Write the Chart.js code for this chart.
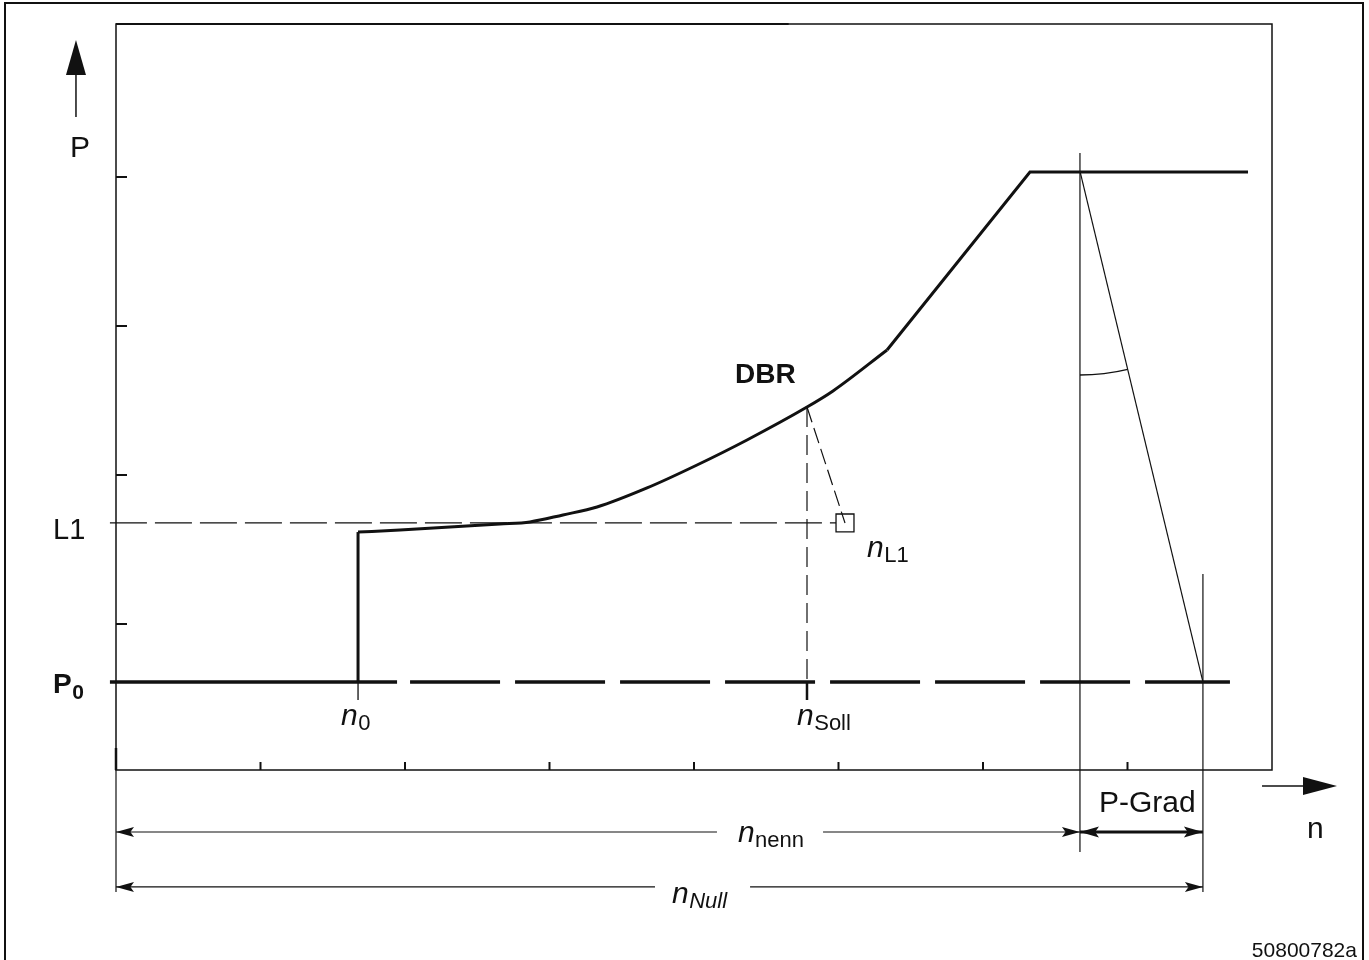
<!DOCTYPE html>
<html>
<head>
<meta charset="utf-8">
<script src="https://cdn.jsdelivr.net/npm/chart.js@4/dist/chart.umd.min.js"></script>
<style>
html,body{margin:0;padding:0;background:#fff;}
canvas{display:block;}
</style>
</head>
<body>
<canvas id="c" width="1369" height="960"></canvas>
<script>
// ---- data (n on x, P on y, in chart units) ----
const xTicks = [1, 2, 3, 4, 5, 6, 7];
const yTicks = [1, 2, 3, 4];
const curveN = [1.675, 1.965, 2.311, 2.657, 2.865, 3.093, 3.329, 3.675, 4.021, 4.367, 4.782, 4.962, 5.336];
const curveP = [1.617, 1.631, 1.651, 1.671, 1.685, 1.732, 1.785, 1.913, 2.067, 2.235, 2.456, 2.564, 2.839];
const rampN = [5.336, 6.325, 7.834];
const rampP = [2.839, 4.034, 4.034];
const P0 = 0.611;
const L1 = 1.678;
const n0 = 1.675;
const nSoll = 4.782;
const pSoll = 2.456;
const nL1 = 5.045;
const nNenn = 6.671;
const nNullV = 7.522;
const pMax = 4.040;

function pts(xs, ys) { return xs.map((x, i) => ({x: x, y: ys[i]})); }

const BLACK = '#111';
const FONT = '"Liberation Sans", Arial, Helvetica, sans-serif';

function line(data, w, dash, extra) {
  return Object.assign({
    data: data, showLine: true, borderColor: BLACK, borderWidth: w,
    borderDash: dash || [], pointRadius: 0, clip: false, tension: 0
  }, extra || {});
}

const yNenn = -0.396, yNull = -0.765;

const datasets = [
  // main characteristic
  line(pts([n0, n0], [P0, curveP[0]]), 3),
  line(pts(curveN, curveP), 3, null, {cubicInterpolationMode: 'monotone'}),
  line(pts(rampN, rampP), 3),
  // P0 base line: solid then long dashes
  line(pts([-0.042, 1.945], [P0, P0]), 3.5),
  line(pts([1.945, 7.709], [P0, P0]), 3.5, [90, 15], {borderDashOffset: 92}),
  // L1 dashed
  line(pts([-0.042, 4.983], [L1, L1]), 1.2, [37, 8]),
  // nSoll dashed vertical
  line(pts([nSoll, nSoll], [pSoll, P0]), 1.2, [20, 8]),
  // DBR -> nL1 dashed
  line(pts([nSoll, nL1], [pSoll, L1]), 1.2, [16, 6]),
  // nL1 square
  {data: [{x: nL1, y: L1}], showLine: false, pointStyle: 'rect', pointRadius: 12.7,
   pointBackgroundColor: 'rgba(0,0,0,0)', pointBorderColor: BLACK, pointBorderWidth: 1.3, clip: false},
  // small ticks under n0 and nSoll
  line(pts([n0, n0], [P0, 0.490]), 1.3),
  line(pts([nSoll, nSoll], [P0, 0.490]), 2.5),
  // P-Grad construction
  line(pts([nNenn, nNenn], [4.161, -0.530]), 1.2),
  line(pts([nNenn, nNullV], [pMax, P0]), 1.2),
  line(pts([nNullV, nNullV], [1.336, -0.799]), 1.2),
  line(pts([0, 0], [0.02, -0.799]), 1.2),
  // dimension lines
  line(pts([0, 4.159], [yNenn, yNenn]), 1.2),
  line(pts([4.893, nNenn], [yNenn, yNenn]), 1.2),
  line(pts([nNenn, nNullV], [yNenn, yNenn]), 3),
  line(pts([0, 3.730], [yNull, yNull]), 1.2),
  line(pts([4.388, nNullV], [yNull, yNull]), 1.2),
  // axis arrows shafts
  line(pts([-0.277, -0.277], [4.403, 4.685]), 1.5),
  line(pts([7.931, 8.215], [-0.087, -0.087]), 1.5)
];

const labels = {
  P: {x: -0.249, y: 4.134},
  L1: {x: -0.436, y: 1.570},
  P0: {x: -0.436, y: 0.537},
  n0: {x: 1.557, y: 0.322},
  nSoll: {x: 4.713, y: 0.322},
  DBR: {x: 4.284, y: 2.617},
  nL1: {x: 5.197, y: 1.450},
  PGrad: {x: 6.803, y: -0.262},
  n: {x: 8.242, y: -0.436},
  nnenn: {x: 4.304, y: -0.463},
  nNull: {x: 3.848, y: -0.872},
  code: {x: 8.588, y: -1.235}
};

const deco = {
  id: 'deco',
  beforeDraw(chart) {
    const c = chart.ctx;
    c.save();
    c.fillStyle = '#fff';
    c.fillRect(0, 0, chart.width, chart.height);
    c.restore();
  },
  afterDatasetsDraw(chart) {
    const c = chart.ctx;
    const xs = chart.scales.x, ys = chart.scales.y;
    const X = v => xs.getPixelForValue(v), Y = v => ys.getPixelForValue(v);
    const a = chart.chartArea;
    c.save();
    c.strokeStyle = BLACK; c.fillStyle = BLACK; c.lineCap = 'butt';

    // outer frame
    c.lineWidth = 2;
    c.beginPath();
    c.moveTo(5, 962); c.lineTo(5, 3); c.lineTo(1363, 3); c.lineTo(1363, 962);
    c.stroke();

    // plot box
    c.lineWidth = 1.5;
    c.strokeRect(a.left, a.top, a.right - a.left, a.bottom - a.top);
    c.lineWidth = 2;
    c.beginPath(); c.moveTo(a.left, a.top); c.lineTo(a.right * 0.62, a.top); c.stroke();

    // ticks
    c.lineWidth = 2;
    xTicks.forEach(t => { c.beginPath(); c.moveTo(X(t), a.bottom); c.lineTo(X(t), a.bottom - 8); c.stroke(); });
    c.lineWidth = 2.5;
    c.beginPath(); c.moveTo(X(0), a.bottom); c.lineTo(X(0), a.bottom - 22); c.stroke();
    c.lineWidth = 2;
    yTicks.forEach(t => { c.beginPath(); c.moveTo(a.left, Y(t)); c.lineTo(a.left + 11, Y(t)); c.stroke(); });

    // arc marking P-Grad angle
    const cx = X(nNenn), cy = Y(pMax);
    const r = Y(2.671) - cy;
    const ang = Math.atan2(Y(P0) - cy, X(nNullV) - cx);
    c.lineWidth = 1.3;
    c.beginPath(); c.arc(cx, cy, r, ang, Math.PI / 2); c.stroke();

    // arrowheads
    function head(tx, ty, dx, dy, len, hw) {
      const px = -dy, py = dx;
      c.beginPath();
      c.moveTo(tx, ty);
      c.lineTo(tx - dx * len + px * hw, ty - dy * len + py * hw);
      c.lineTo(tx - dx * len * 0.8, ty - dy * len * 0.8);
      c.lineTo(tx - dx * len - px * hw, ty - dy * len - py * hw);
      c.closePath(); c.fill();
    }
    head(X(0), Y(yNenn), -1, 0, 18, 5);
    head(X(nNenn), Y(yNenn), 1, 0, 18, 5);
    head(X(nNenn), Y(yNenn), -1, 0, 19, 5.5);
    head(X(nNullV), Y(yNenn), 1, 0, 19, 5.5);
    head(X(0), Y(yNull), -1, 0, 18, 5);
    head(X(nNullV), Y(yNull), 1, 0, 18, 5);
    // axis arrows
    function bigHead(tx, ty, dx, dy, len, hw) {
      const px = -dy, py = dx;
      c.beginPath();
      c.moveTo(tx, ty);
      c.lineTo(tx - dx * len + px * hw, ty - dy * len + py * hw);
      c.lineTo(tx - dx * len - px * hw, ty - dy * len - py * hw);
      c.closePath(); c.fill();
    }
    bigHead(X(-0.277), Y(4.919), 0, -1, 35, 10);
    bigHead(X(8.450), Y(-0.087), 1, 0, 34, 9);

    // text
    c.textBaseline = 'alphabetic';
    function txt(s, x, y, font, align) {
      c.font = font; c.textAlign = align || 'left'; c.fillText(s, x, y);
    }
    function nlab(p, sub, subItalic) {
      const x = X(p.x), y = Y(p.y);
      c.font = 'italic 30px ' + FONT; c.textAlign = 'left';
      c.fillText('n', x, y);
      const w = c.measureText('n').width;
      c.font = (subItalic ? 'italic ' : '') + '22px ' + FONT;
      c.fillText(sub, x + w + 0.5, y + 5);
    }
    txt('P', X(labels.P.x), Y(labels.P.y), '30px ' + FONT, 'center');
    txt('L1', X(labels.L1.x), Y(labels.L1.y), '29px ' + FONT);
    c.font = 'bold 28px ' + FONT; c.textAlign = 'left';
    c.fillText('P', X(labels.P0.x), Y(labels.P0.y));
    const pw = c.measureText('P').width;
    c.font = 'bold 21px ' + FONT;
    c.fillText('0', X(labels.P0.x) + pw + 0.5, Y(labels.P0.y) + 6);
    nlab(labels.n0, '0');
    nlab(labels.nSoll, 'Soll');
    nlab(labels.nL1, 'L1');
    nlab(labels.nnenn, 'nenn');
    nlab(labels.nNull, 'Null', true);
    txt('DBR', X(labels.DBR.x), Y(labels.DBR.y), 'bold 28px ' + FONT);
    txt('P-Grad', X(labels.PGrad.x), Y(labels.PGrad.y), '30px ' + FONT);
    txt('n', X(labels.n.x), Y(labels.n.y), '30px ' + FONT);
    txt('50800782a', X(labels.code.x), Y(labels.code.y), '21px ' + FONT, 'right');
    c.restore();
  }
};

new Chart(document.getElementById('c'), {
  type: 'scatter',
  data: {datasets: datasets},
  options: {
    responsive: false,
    animation: false,
    events: [],
    layout: {padding: {left: 116, top: 24, right: 97, bottom: 190}},
    plugins: {legend: {display: false}, tooltip: {enabled: false}},
    scales: {
      x: {type: 'linear', min: 0, max: 8, display: false},
      y: {type: 'linear', min: 0.02, max: 5.027, display: false}
    }
  },
  plugins: [deco]
});
</script>
</body>
</html>
